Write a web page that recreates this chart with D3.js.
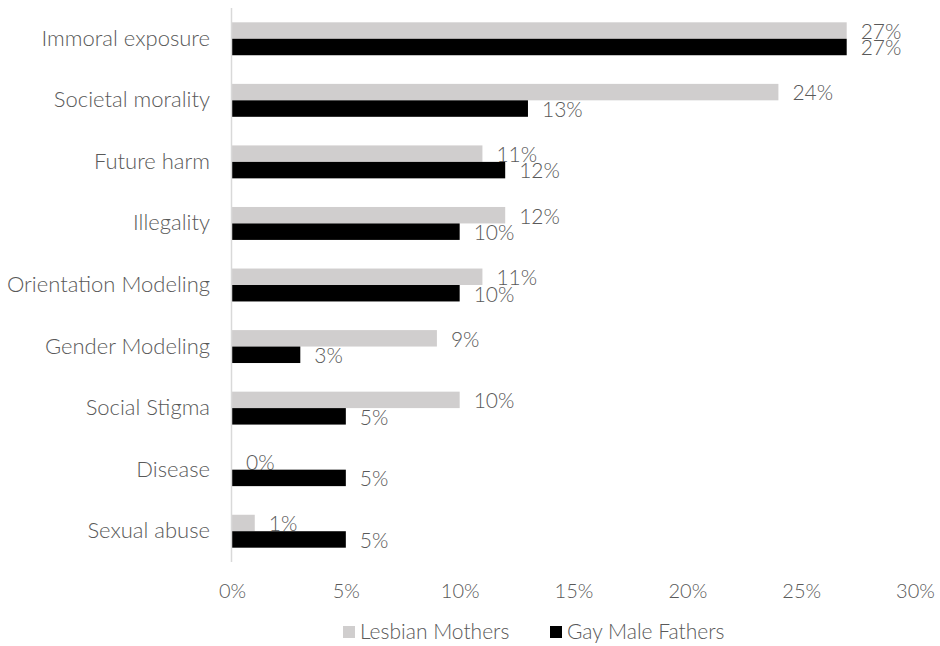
<!DOCTYPE html>
<html>
<head>
<meta charset="utf-8">
<script src="https://cdn.jsdelivr.net/npm/d3@7"></script>
<style>
  html, body { margin: 0; padding: 0; background: #ffffff; }
  svg { display: block; }
  text { font-family: "Lato", "Liberation Sans", sans-serif; font-weight: 300; fill: #595959; }
</style>
</head>
<body>
<svg id="chart" width="940" height="646"></svg>
<script>
// Reasons cited, by parent group (percent of responses)
const categories = [
  "Immoral exposure", "Societal morality", "Future harm", "Illegality",
  "Orientation Modeling", "Gender Modeling", "Social Stigma", "Disease", "Sexual abuse"
];
const lesbianMothers = [27, 24, 11, 12, 11, 9, 10, 0, 1];
const gayMaleFathers = [27, 13, 12, 10, 10, 3, 5, 5, 5];
const seriesNames = ["Lesbian Mothers", "Gay Male Fathers"];
const xTicks = [0, 5, 10, 15, 20, 25, 30];

const colors = ["#d0cece", "#000000"];
const seriesValues = [lesbianMothers, gayMaleFathers];

const svg = d3.select("#chart");
const margin = { top: 8, right: 25, bottom: 84, left: 232 };
const W = 940, H = 646;
const plotW = W - margin.left - margin.right;
const plotH = H - margin.top - margin.bottom;

const g = svg.append("g").attr("transform", `translate(${margin.left},${margin.top})`);

const x = d3.scaleLinear().domain([0, 30]).range([0, plotW]);
const y = d3.scaleBand().domain(categories).range([0, plotH]).paddingInner(0.465).paddingOuter(0.2325);
const ySub = d3.scaleBand().domain(seriesNames).range([0, y.bandwidth()]);

// value axis labels (no line, no ticks)
const xAxis = d3.axisBottom(x).tickValues(xTicks).tickFormat(d => d + "%").tickSize(0).tickPadding(0);
const xa = g.append("g").attr("transform", `translate(0,${plotH + 29})`).call(xAxis);
xa.select(".domain").remove();
xa.selectAll("text").attr("font-size", 20).attr("font-family", null).attr("fill", "#595959").attr("dy", "0.35em");

// category labels
const yAxis = d3.axisLeft(y).tickSize(0).tickPadding(22);
const ya = g.append("g").call(yAxis);
ya.select(".domain").remove();
ya.selectAll("text").attr("font-size", 22).attr("font-family", null).attr("fill", "#595959");

// bars and value labels per series
seriesNames.forEach((name, si) => {
  const vals = seriesValues[si];
  const grp = g.append("g");
  grp.selectAll("rect").data(categories).join("rect")
    .attr("x", 0)
    .attr("y", c => y(c) + ySub(name))
    .attr("width", (c, i) => x(vals[i]))
    .attr("height", ySub.bandwidth())
    .attr("fill", colors[si]);
  grp.selectAll("text").data(categories).join("text")
    .attr("x", (c, i) => x(vals[i]) + 14)
    .attr("y", c => y(c) + ySub(name) + ySub.bandwidth() / 2 + 1)
    .attr("dy", "0.35em")
    .attr("font-size", 21)
    .text((c, i) => vals[i] + "%");
});

// vertical category axis line
g.append("line")
  .attr("x1", -0.5).attr("x2", -0.5)
  .attr("y1", 0).attr("y2", plotH)
  .attr("stroke", "#d9d9d9").attr("stroke-width", 1.5);

// legend
const legend = svg.append("g").attr("transform", `translate(0,632)`);
const legendX = [343, 550];
seriesNames.forEach((name, si) => {
  legend.append("rect")
    .attr("x", legendX[si]).attr("y", -6)
    .attr("width", 12).attr("height", 12)
    .attr("fill", colors[si]);
  legend.append("text")
    .attr("x", legendX[si] + 17).attr("y", 0)
    .attr("dy", "0.35em")
    .attr("font-size", 21)
    .text(name);
});
</script>
</body>
</html>
